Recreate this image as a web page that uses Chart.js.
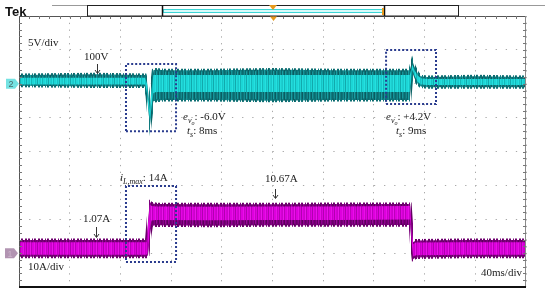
<!DOCTYPE html>
<html>
<head>
<meta charset="utf-8">
<script src="https://cdn.jsdelivr.net/npm/chart.js@4.4.1/dist/chart.umd.min.js"></script>
<style>
  html, body { margin: 0; padding: 0; background: #fff; }
  #wrap { width: 550px; height: 294px; }
</style>
</head>
<body>
<div id="wrap"><canvas id="scope" width="550" height="294"></canvas></div>
<script>
// --- datos (tiempo en ms, 40ms/div) ---
// canal 2: tension de salida (5V/div)
const vTimes   = [0, 60, 99.5, 101, 102.3, 103.4, 104.6, 106, 108, 115, 150, 200, 250, 308.3, 309.5, 310.3, 312, 314.5, 317, 322, 360, 400];
const vOuterHi = [101.3, 101.4, 101.3, 100.4, 98.0, 96.6, 99.8, 102.0, 102.1, 102.0, 102.0, 102.1, 102.0, 102.0, 102.8, 103.4, 102.5, 101.6, 101.1, 101.0, 101.1, 101.0];
const vOuterLo = [99.7, 99.6, 99.6, 98.2, 95.5, 93.9, 95.8, 97.4, 97.5, 97.6, 97.6, 97.5, 97.6, 97.6, 100.2, 101.7, 100.8, 100.0, 99.6, 99.5, 99.5, 99.5];
const vCoreHi  = [100.9, 100.9, 100.9, 100.0, 97.6, 96.0, 99.2, 101.3, 101.3, 101.3, 101.3, 101.3, 101.3, 101.3, 102.2, 102.8, 102.0, 101.2, 100.8, 100.7, 100.7, 100.7];
const vCoreLo  = [99.9, 99.9, 99.9, 98.6, 96.0, 94.6, 96.6, 98.6, 98.8, 98.8, 98.8, 98.8, 98.8, 98.8, 100.6, 102.1, 101.2, 100.3, 99.9, 99.8, 99.8, 99.8];

// canal 1: corriente de bobina (10A/div)
const iTimes   = [0, 100.6, 101.8, 103.2, 104.5, 108, 150, 200, 250, 308.6, 309.8, 311, 313, 350, 400];
const iOuterHi = [3.9, 3.9, 9.5, 15.1, 14.7, 14.5, 14.4, 14.4, 14.5, 14.5, 8.0, 3.2, 3.7, 3.9, 3.9];
const iOuterLo = [-1.1, -1.1, -0.6, 5.0, 8.0, 8.2, 8.1, 8.2, 8.2, 8.3, 2.0, -1.8, -1.3, -1.1, -1.1];
const iCoreHi  = [3.2, 3.2, 8.6, 14.3, 13.9, 13.8, 13.7, 13.8, 13.8, 13.9, 7.2, 2.6, 3.1, 3.2, 3.2];
const iCoreLo  = [-0.5, -0.5, 0.4, 7.2, 9.6, 9.8, 9.7, 9.8, 9.8, 9.9, 3.0, -1.0, -0.6, -0.5, -0.5];

// recuadros punteados [t0, t1, y0, y1]
const boxDip   = [84.4, 123.9, 93.0, 102.9];
const boxOver  = [289.6, 329.0, 97.0, 105.0];
const boxStep  = [84.4, 123.9, -2.6, 19.8];

// escalas de la reticula
const timeDivs = [0, 400, 40];
const voltDivs = [70, 110, 5];
const ampDivs  = [-10, 70, 10];

const SERIF = '"Liberation Serif", "Times New Roman", serif';

// rayado vertical para imitar el ruido del osciloscopio (solo estilo)
function stripes(cols) {
    const c = document.createElement('canvas');
    c.width = cols.length; c.height = 1;
    const g = c.getContext('2d');
    cols.forEach((col, i) => { g.fillStyle = col; g.fillRect(i, 0, 1, 1); });
    return g.createPattern(c, 'repeat');
}
const T0 = 'rgba(0,0,0,0)';
const CYAN_FILL = stripes(['#1cd6d6', '#24e0e0', '#17c2c4', '#1cd6d6', '#11a9ac', '#22dcdc', '#1ccfd0', '#19c8ca', '#26e2e2', '#14b6b8', '#1cd6d6']);
const TEAL_FILL = stripes(['#0e767a', '#14898d', '#0b6468', '#1a9ea2', '#0e767a', '#0a5c60', '#16959a', '#0f7c80', '#0c6a6e']);
const TEAL_EDGE = stripes(['#0c6c70', T0, '#0e767a', '#0c6c70', T0, T0, '#0f7a7e', T0, '#0b6266', '#0e767a', T0, T0, '#0c6c70']);
const MAG_FILL  = stripes(['#de00de', '#e810e8', '#c600c6', '#de00de', '#b000b0', '#e406e4', '#d400d4', '#cc00cc', '#ea14ea', '#ba00ba', '#de00de']);
const PURP_FILL = stripes(['#760076', '#880088', '#640064', '#9a0a9a', '#760076', '#5c005c', '#920092', '#7c007c', '#6a006a']);
const PURP_EDGE = stripes(['#6c006c', T0, '#760076', '#6c006c', T0, T0, '#7a007a', T0, '#620062', '#760076', T0, T0, '#6c006c']);

const pts = (times, vals) => times.map((t, i) => ({ x: t, y: vals[i] }));
const boxPts = b => [{x: b[0], y: b[2]}, {x: b[1], y: b[2]}, {x: b[1], y: b[3]}, {x: b[0], y: b[3]}, {x: b[0], y: b[2]}];

function band(data, axis, fill, color, edge) {
    return {
        data, yAxisID: axis, fill,
        backgroundColor: color,
        borderColor: edge || T0,
        borderWidth: edge ? 3 : 0,
        pointRadius: 0, tension: 0
    };
}

function dotted(b, axis) {
    return {
        data: boxPts(b), yAxisID: axis, fill: false,
        borderColor: '#2a3c8e', borderWidth: 2, borderDash: [2, 2],
        pointRadius: 0, tension: 0
    };
}

// texto con subindices: partes [texto, fuente, dy]
function rich(ctx, x, y, parts) {
    parts.forEach(([txt, font, dy]) => {
        ctx.font = font;
        ctx.fillText(txt, x, y + dy);
        x += ctx.measureText(txt).width;
    });
}

function arrow(ctx, x, y1, y2) {
    ctx.beginPath();
    ctx.moveTo(x + 0.5, y1);
    ctx.lineTo(x + 0.5, y2);
    ctx.stroke();
    ctx.beginPath();
    ctx.moveTo(x - 2, y2 - 3);
    ctx.lineTo(x + 0.5, y2 + 0.5);
    ctx.lineTo(x + 3, y2 - 3);
    ctx.stroke();
}

const scopeDeco = {
    id: 'scopeDeco',
    beforeDraw(chart) {
        const ctx = chart.ctx;
        ctx.save();
        ctx.fillStyle = '#fff';
        ctx.fillRect(0, 0, chart.width, chart.height);
        ctx.restore();
    },
    afterDraw(chart) {
        const ctx = chart.ctx;
        const a = chart.chartArea;
        ctx.save();

        // marco
        ctx.strokeStyle = '#555';
        ctx.lineWidth = 1;
        ctx.beginPath();
        ctx.moveTo(a.left + 0.5, a.bottom);
        ctx.lineTo(a.left + 0.5, a.top + 0.5);
        ctx.lineTo(a.right - 0.5, a.top + 0.5);
        ctx.stroke();
        ctx.strokeStyle = '#8a8a8a';
        ctx.beginPath();
        ctx.moveTo(a.right - 0.5, a.top);
        ctx.lineTo(a.right - 0.5, a.bottom);
        ctx.stroke();
        ctx.strokeStyle = '#111';
        ctx.lineWidth = 2;
        ctx.beginPath();
        ctx.moveTo(a.left, a.bottom);
        ctx.lineTo(a.right, a.bottom);
        ctx.stroke();

        // marcas menores en el borde
        ctx.strokeStyle = '#777';
        ctx.lineWidth = 1;
        const dx = (a.right - a.left) / 50, dy = (a.bottom - a.top) / 40;
        ctx.beginPath();
        for (let i = 1; i < 50; i++) {
            const x = Math.round(a.left + i * dx) + 0.5;
            ctx.moveTo(x, a.top); ctx.lineTo(x, a.top + 3);
        }
        for (let i = 1; i < 40; i++) {
            const y = Math.round(a.top + i * dy) + 0.5;
            ctx.moveTo(a.left, y); ctx.lineTo(a.left + 3, y);
            ctx.moveTo(a.right, y); ctx.lineTo(a.right - 3, y);
        }
        ctx.stroke();

        // barra superior de registro
        ctx.strokeStyle = '#999';
        ctx.beginPath();
        ctx.moveTo(52, 5.5); ctx.lineTo(545, 5.5);
        ctx.stroke();
        ctx.fillStyle = '#fff';
        ctx.fillRect(87, 5, 371, 11);
        ctx.strokeStyle = '#222';
        ctx.strokeRect(87.5, 5.5, 371, 10.5);
        ctx.fillStyle = '#d8fbfb';
        ctx.fillRect(163, 9, 219, 4);
        ctx.strokeStyle = '#3cd6d6';
        ctx.strokeRect(163.5, 9.5, 219, 3);
        ctx.strokeStyle = '#111';
        ctx.lineWidth = 1.5;
        ctx.beginPath();
        ctx.moveTo(162.5, 5); ctx.lineTo(162.5, 16);
        ctx.moveTo(384.5, 5); ctx.lineTo(384.5, 16);
        ctx.stroke();
        ctx.fillStyle = '#e89a1c';
        ctx.beginPath();
        ctx.moveTo(269, 5); ctx.lineTo(277, 5); ctx.lineTo(273, 10);
        ctx.fill();
        ctx.fillRect(382, 8, 2, 7);
        ctx.beginPath();
        ctx.moveTo(270, 16.5); ctx.lineTo(277, 16.5); ctx.lineTo(273.5, 21);
        ctx.fill();

        ctx.fillStyle = '#111';
        ctx.font = 'bold 13px "Liberation Sans", Arial, sans-serif';
        ctx.fillText('Tek', 5, 16);

        // indicadores de canal
        const yv = chart.scales.y.getPixelForValue(100);
        const yi = chart.scales.y2.getPixelForValue(0);
        ctx.fillStyle = '#74e2e2';
        ctx.beginPath();
        ctx.moveTo(6, yv - 5); ctx.lineTo(15, yv - 5); ctx.lineTo(19, yv);
        ctx.lineTo(15, yv + 5); ctx.lineTo(6, yv + 5);
        ctx.fill();
        ctx.fillStyle = '#4b6b6b';
        ctx.font = '9px "Liberation Sans", Arial, sans-serif';
        ctx.fillText('2', 8.5, yv + 3.5);
        ctx.fillStyle = '#b294b2';
        ctx.beginPath();
        ctx.moveTo(5, yi - 5); ctx.lineTo(14, yi - 5); ctx.lineTo(18, yi);
        ctx.lineTo(14, yi + 5); ctx.lineTo(5, yi + 5);
        ctx.fill();
        ctx.fillStyle = '#cbb4cb';
        ctx.fillText('1', 7.5, yi + 3.5);

        // anotaciones
        const R = '11px ' + SERIF, I = 'italic 11px ' + SERIF;
        const S = 'italic 8px ' + SERIF, SS = 'italic 6px ' + SERIF;
        ctx.fillStyle = '#222';
        ctx.font = R;
        ctx.fillText('5V/div', 28, 46);
        ctx.fillText('100V', 84, 60);
        ctx.fillText('10.67A', 265, 182);
        ctx.fillText('1.07A', 83, 222);
        ctx.fillText('10A/div', 28, 270);
        ctx.fillText('40ms/div', 481, 276);
        rich(ctx, 183, 120, [['e', I, 0], ['v', S, 2.5], ['o', SS, 4.5], [': -6.0V', R, 0]]);
        rich(ctx, 187, 134, [['t', I, 0], ['s', S, 2.5], [': 8ms', R, 0]]);
        rich(ctx, 386, 120, [['e', I, 0], ['v', S, 2.5], ['o', SS, 4.5], [': +4.2V', R, 0]]);
        rich(ctx, 396, 134, [['t', I, 0], ['s', S, 2.5], [': 9ms', R, 0]]);
        rich(ctx, 120, 181, [['i', I, 0], ['L,max', S, 2.5], [': 14A', R, 0]]);

        ctx.strokeStyle = '#333';
        ctx.lineWidth = 1;
        arrow(ctx, 97, 64, 73);
        arrow(ctx, 275, 189, 198);
        arrow(ctx, 96, 227, 237);

        ctx.restore();
    }
};

const gridColor = '#a9a9a9';

new Chart(document.getElementById('scope'), {
    type: 'line',
    data: {
        datasets: [
            dotted(boxDip, 'y'),
            dotted(boxOver, 'y'),
            dotted(boxStep, 'y2'),
            band(pts(vTimes, vCoreHi), 'y', false, CYAN_FILL),
            band(pts(vTimes, vCoreLo), 'y', 3, CYAN_FILL),
            band(pts(vTimes, vOuterHi), 'y', false, TEAL_FILL, TEAL_EDGE),
            band(pts(vTimes, vOuterLo), 'y', 5, TEAL_FILL, TEAL_EDGE),
            band(pts(iTimes, iCoreHi), 'y2', false, MAG_FILL),
            band(pts(iTimes, iCoreLo), 'y2', 7, MAG_FILL),
            band(pts(iTimes, iOuterHi), 'y2', false, PURP_FILL, PURP_EDGE),
            band(pts(iTimes, iOuterLo), 'y2', 9, PURP_FILL, PURP_EDGE)
        ]
    },
    options: {
        responsive: false,
        devicePixelRatio: 1,
        animation: false,
        layout: { padding: { left: 19, right: 24, top: 16, bottom: 7 } },
        plugins: { legend: { display: false }, tooltip: { enabled: false } },
        scales: {
            x: {
                type: 'linear', min: timeDivs[0], max: timeDivs[1],
                ticks: { display: false, stepSize: timeDivs[2] },
                grid: { color: gridColor, drawTicks: false },
                border: { display: false, dash: [1.3, 5.47] }
            },
            y: {
                min: voltDivs[0], max: voltDivs[1],
                ticks: { display: false, stepSize: voltDivs[2] },
                grid: { color: gridColor, drawTicks: false },
                border: { display: false, dash: [1.3, 8.84] }
            },
            y2: {
                display: false, min: ampDivs[0], max: ampDivs[1],
                ticks: { stepSize: ampDivs[2] }
            }
        }
    },
    plugins: [scopeDeco]
});
</script>
</body>
</html>
